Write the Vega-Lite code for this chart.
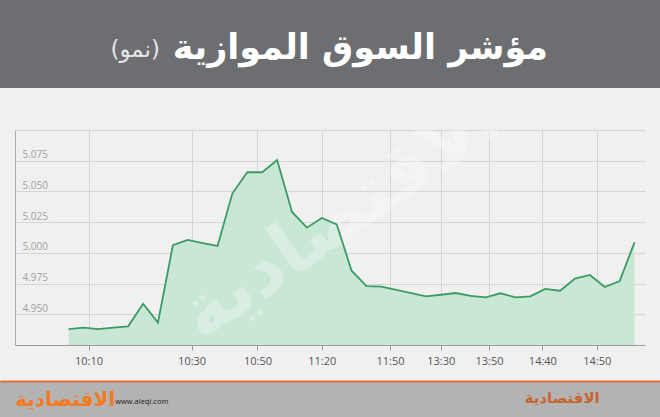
{
  "$schema": "https://vega.github.io/schema/vega-lite/v6.json",
  "padding": 0,
  "background": "#f0f0f0",
  "spacing": 42,
  "center": true,
  "config": {"view": {"stroke": null}, "font": "DejaVu Sans"},
  "vconcat": [
    {
      "width": 660,
      "height": 88,
      "view": {"fill": "#6d6e71", "stroke": null},
      "data": {"values": [{"t": "مؤشر السوق الموازية", "s": "(نمو)"}]},
      "layer": [
        {
          "mark": {"type": "text", "align": "right", "baseline": "middle", "dx": 218, "dy": 4, "fontSize": 35, "fontWeight": "bold", "color": "#ffffff", "font": "DejaVu Sans"},
          "encoding": {"text": {"field": "t"}}
        },
        {
          "mark": {"type": "text", "align": "right", "baseline": "middle", "dx": -170, "dy": 6, "fontSize": 23, "color": "#e4e4e4", "font": "DejaVu Sans"},
          "encoding": {"text": {"field": "s"}}
        }
      ]
    },
    {
      "spacing": 15,
      "center": true,
      "vconcat": [
        {
          "width": 630,
          "height": 215,
          "view": {"stroke": null},
          "layer": [
            {
              "data": {"values": [
                {"i": 0, "v": 4.9380}, {"i": 1, "v": 4.9391}, {"i": 2, "v": 4.9380}, {"i": 3, "v": 4.9391},
                {"i": 4, "v": 4.9402}, {"i": 5, "v": 4.9586}, {"i": 6, "v": 4.9432}, {"i": 7, "v": 5.0062},
                {"i": 8, "v": 5.0105}, {"i": 9, "v": 5.0080}, {"i": 10, "v": 5.0056}, {"i": 11, "v": 5.0485},
                {"i": 12, "v": 5.0656}, {"i": 13, "v": 5.0656}, {"i": 14, "v": 5.0756}, {"i": 15, "v": 5.0333},
                {"i": 16, "v": 5.0205}, {"i": 17, "v": 5.0284}, {"i": 18, "v": 5.0232}, {"i": 19, "v": 4.9855},
                {"i": 20, "v": 4.9730}, {"i": 21, "v": 4.9725}, {"i": 22, "v": 4.9698}, {"i": 23, "v": 4.9672},
                {"i": 24, "v": 4.9646}, {"i": 25, "v": 4.9659}, {"i": 26, "v": 4.9673}, {"i": 27, "v": 4.9649},
                {"i": 28, "v": 4.9637}, {"i": 29, "v": 4.9671}, {"i": 30, "v": 4.9638}, {"i": 31, "v": 4.9646},
                {"i": 32, "v": 4.9706}, {"i": 33, "v": 4.9692}, {"i": 34, "v": 4.9790}, {"i": 35, "v": 4.9820},
                {"i": 36, "v": 4.9722}, {"i": 37, "v": 4.9771}, {"i": 38, "v": 5.0086}
              ]},
              "layer": [
                {
                  "mark": {"type": "area", "color": "#c9e7d5", "opacity": 1},
                  "encoding": {"y2": {"datum": 4.925}}
                },
                {
                  "data": {"values": [{"w": "الاقتصادية"}]},
                  "mark": {"type": "text", "angle": -35, "fontSize": 74, "fontWeight": "bold", "font": "DejaVu Sans", "color": "#ffffff", "opacity": 0.3, "clip": true, "dx": 20, "dy": -10},
                  "encoding": {"x": null, "y": null, "text": {"field": "w"}}
                },
                {
                  "mark": {"type": "line", "color": "#3c9b63", "strokeWidth": 1.8}
                }
              ],
              "encoding": {
                "x": {
                  "field": "i", "type": "quantitative",
                  "scale": {"domain": [-3.6, 38.7], "nice": false, "zero": false},
                  "axis": {
                    "title": null,
                    "values": [1.34, 8.26, 12.68, 17, 21.58, 24.99, 28.23, 31.81, 35.46],
                    "labelExpr": "['10:10','10:30','10:50','11:20','11:50','13:30','13:50','14:40','14:50'][indexof([1.34, 8.26, 12.68, 17, 21.58, 24.99, 28.23, 31.81, 35.46], datum.value)]",
                    "grid": true, "gridColor": "#d4d4d4", "gridWidth": 1,
                    "domainColor": "#9a9a9a", "tickColor": "#9a9a9a", "tickSize": 5,
                    "labelColor": "#555555", "labelFontSize": 11, "labelFont": "Open Sans",
                    "labelPadding": 5, "labelFlush": false, "labelOverlap": false
                  }
                },
                "y": {
                  "field": "v", "type": "quantitative",
                  "scale": {"domain": [4.925, 5.1], "nice": false, "zero": false},
                  "axis": {
                    "title": null,
                    "values": [4.925, 4.95, 4.975, 5, 5.025, 5.05, 5.075, 5.1],
                    "labelExpr": "datum.value > 4.93 && datum.value < 5.09 ? format(datum.value, '.3f') : ''",
                    "grid": true, "gridColor": "#d4d4d4", "gridWidth": 1,
                    "ticks": false, "domainColor": "#aaaaaa",
                    "labelAlign": "left", "labelBaseline": "bottom", "labelPadding": -7, "labelOffset": -1,
                    "labelColor": "#a0a0a0", "labelFontSize": 10, "labelFont": "Open Sans"
                  }
                }
              }
            }
          ]
        },
        {
          "width": 660,
          "height": 37,
          "view": {"fill": "#b3b3b3", "stroke": null},
          "layer": [
            {
              "data": {"values": [{"side": "L", "t": "www.aleqi.com"}]},
              "mark": {"type": "text", "align": "left", "baseline": "middle", "dx": 50, "dy": 2, "fontSize": 7.5, "color": "#222222", "font": "Open Sans"},
              "encoding": {"x": {"field": "side", "type": "nominal"}, "text": {"field": "t"}}
            },
            {
              "data": {"values": [{"side": "L", "t": "الاقتصادية"}]},
              "mark": {"type": "text", "align": "center", "baseline": "middle", "fontSize": 20, "fontWeight": "bold", "color": "#f47a20", "font": "DejaVu Sans"},
              "encoding": {"x": {"field": "side", "type": "nominal"}, "text": {"field": "t"}}
            },
            {
              "data": {"values": [{"side": "R", "t": "الاقتصادية"}]},
              "mark": {"type": "text", "align": "center", "baseline": "middle", "dy": -2, "fontSize": 15, "fontWeight": "bold", "color": "#c8652e", "font": "DejaVu Sans"},
              "encoding": {"x": {"field": "side", "type": "nominal"}, "text": {"field": "t"}}
            }
          ],
          "encoding": {
            "x": {
              "field": "side", "type": "nominal",
              "scale": {"type": "point", "domain": ["L", "R"], "padding": 0.164, "align": 0.4},
              "axis": {"orient": "top", "title": null, "labels": false, "ticks": false, "grid": false, "domainColor": "#e2703a", "domainWidth": 2}
            }
          }
        }
      ]
    }
  ]
}
